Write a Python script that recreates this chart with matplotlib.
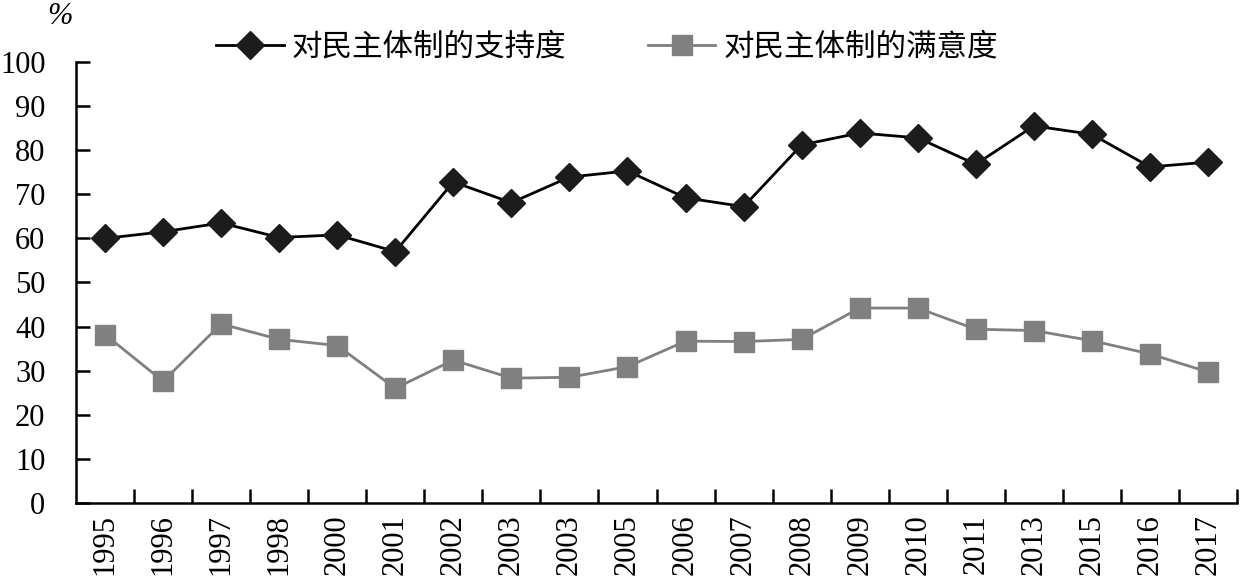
import matplotlib
matplotlib.use("Agg")
import matplotlib.pyplot as plt
import numpy as np

plt.rcParams['font.family'] = ['Liberation Serif', 'Noto Sans CJK SC', 'DejaVu Sans']

years = ["1995", "1996", "1997", "1998", "2000", "2001", "2002", "2003", "2003", "2005",
         "2006", "2007", "2008", "2009", "2010", "2011", "2013", "2015", "2016", "2017"]
support = [60.0, 61.5, 63.5, 60.2, 60.8, 57.0, 72.8, 68.1, 73.9, 75.3,
           69.2, 67.2, 81.2, 83.9, 82.8, 76.8, 85.5, 83.6, 76.2, 77.3]
satisfaction = [38.2, 27.6, 40.6, 37.1, 35.7, 26.0, 32.4, 28.3, 28.5, 30.9,
                36.7, 36.6, 37.1, 44.2, 44.2, 39.4, 39.1, 36.8, 33.8, 29.7]
label_support = "对民主体制的支持度"
label_satis = "对民主体制的满意度"
yticks = list(range(0, 101, 10))

FS = 22

fig = plt.figure(figsize=(12.44, 5.81), dpi=100)
ax = fig.add_axes([0.0611, 0.1343, 0.9333, 0.759])

x = np.arange(len(years))
ax.plot(x, support, color='black', lw=2.0, marker='D', markersize=14,
        markerfacecolor='#1c1c1c', markeredgecolor='#1c1c1c', label=label_support, zorder=3)
ax.plot(x, satisfaction, color='#808080', lw=2.0, marker='s', markersize=14,
        markerfacecolor='#808080', markeredgecolor='#808080', label=label_satis, zorder=3)

ax.set_xlim(-0.5, len(years) - 0.5)
ax.set_ylim(0, 100)
ax.set_yticks(yticks)
ax.set_yticklabels([str(v) for v in yticks], fontsize=FS)
ax.tick_params(axis='y', direction='in', length=10, width=1.8, pad=22)

ax.set_xticks(x)
ax.set_xticklabels(years, rotation=90, fontsize=FS)
ax.tick_params(axis='x', which='major', length=0, pad=8)
ax.set_xticks(np.arange(0.5, len(years), 1.0), minor=True)
ax.tick_params(axis='x', which='minor', direction='in', length=10, width=1.8)

for s in ['top', 'right']:
    ax.spines[s].set_visible(False)
for s in ['left', 'bottom']:
    ax.spines[s].set_linewidth(1.8)

fig.text(60 / 1244, 1 - 16 / 581, "%", fontsize=FS, style='italic', ha='center', va='center')

fig.legend(loc='center', bbox_to_anchor=(607 / 1244, 1 - 47 / 581), ncol=2, frameon=False,
           handlelength=2.2, handletextpad=0.25, columnspacing=2.7,
           prop={'family': ['Noto Sans CJK SC', 'DejaVu Sans'], 'size': FS})

fig.savefig("out.png", dpi=100)
